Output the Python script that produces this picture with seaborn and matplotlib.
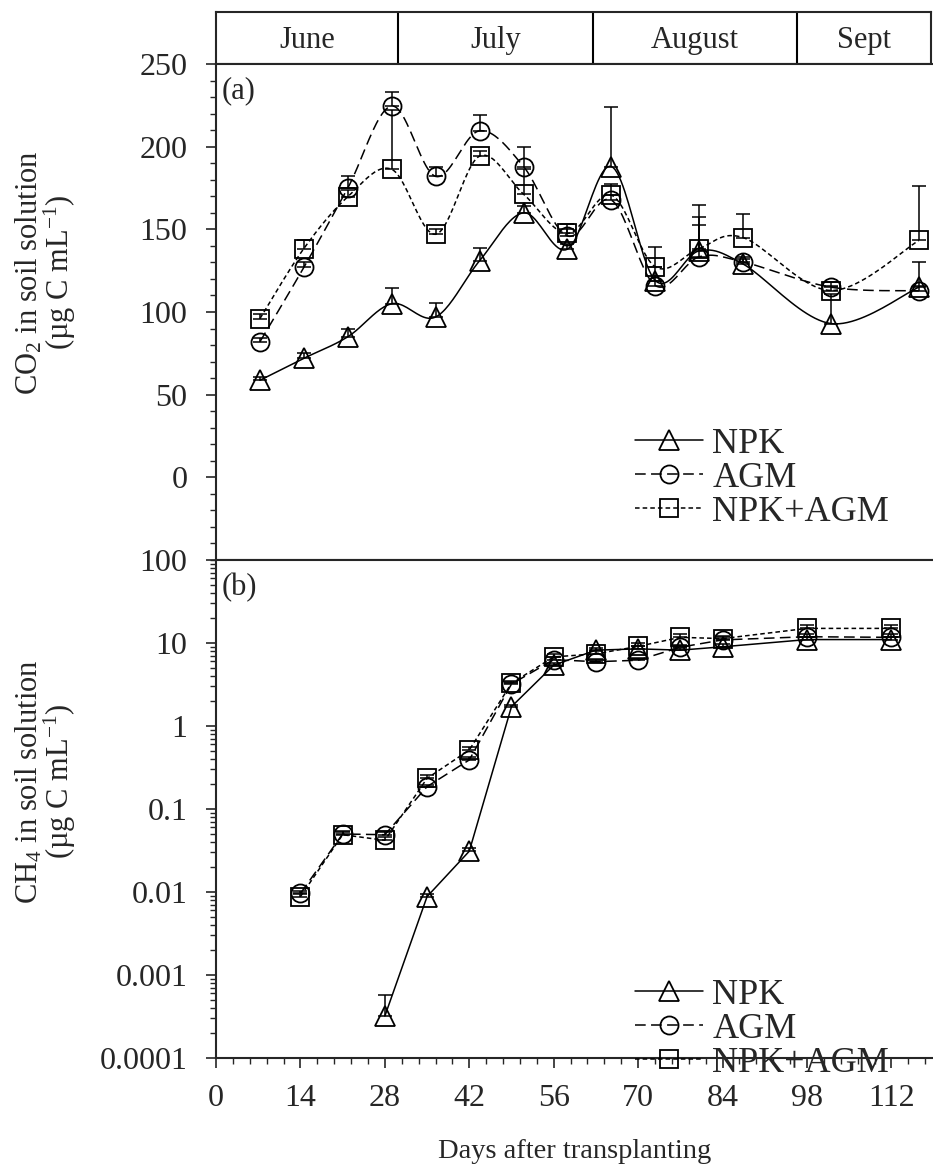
import numpy as np
import pandas as pd
import matplotlib
matplotlib.use("Agg")
import matplotlib.pyplot as plt
import seaborn as sns
from matplotlib.lines import Line2D
from matplotlib.ticker import MultipleLocator, FixedLocator, FuncFormatter, LogLocator, NullFormatter

# ---------------- data ----------------
series_names = ["NPK", "AGM", "NPK+AGM"]

days_a = [7, 14, 21, 28, 35, 42, 49, 56, 63, 70, 77, 84, 98, 112]
co2_npk = [58.7, 72, 85, 105, 97, 131, 160, 138, 188, 119, 137, 129, 93, 115]
co2_agm = [82, 127, 175, 224.6, 182, 209.6, 188, 146, 167.7, 116, 133.4, 130.3, 115, 112.8]
co2_mix = [96, 138.4, 169.7, 186.3, 147, 194.3, 171.3, 147.5, 170.7, 127.3, 138.4, 145, 113, 143.3]
co2_npk_err = [2, 3, 5, 9.5, 8.5, 8, 4, 3, 36, 8, 28, 3, 18, 15]
co2_agm_err = [2, 3, 7.5, 8.6, 6, 9.5, 12, 4, 3, 3, 19, 3, 3, 3]
co2_mix_err = [3, 5, 4, 36, 3, 3, 15, 6, 6.7, 12, 19, 14, 3, 33]

days_b = [14, 21, 28, 35, 42, 49, 56, 63, 70, 77, 84, 98, 112]
ch4_npk = [np.nan, np.nan, 0.00032, 0.0088, 0.031, 1.71, 5.4, 8.2, 8.5, 8.2, 9.0, 11.0, 11.0]
ch4_agm = [0.0096, 0.050, 0.049, 0.186, 0.39, 3.2, 6.3, 5.95, 6.2, 8.9, 10.9, 11.9, 11.7]
ch4_mix = [0.0088, 0.049, 0.042, 0.234, 0.514, 3.27, 6.8, 7.4, 9.1, 11.7, 11.3, 15.0, 15.0]
ch4_npk_err = [np.nan, np.nan, 0.00026, 0.0006, 0.003, 0.1, 0.4, 0.5, 0.6, 0.6, 0.8, 0.8, 0.8]
ch4_agm_err = [0.0006, 0.004, 0.004, 0.01, 0.03, 0.2, 0.4, 0.4, 0.4, 0.6, 0.8, 1.0, 1.0]
ch4_mix_err = [0.0006, 0.004, 0.004, 0.02, 0.04, 0.2, 0.5, 0.6, 0.8, 1.2, 1.0, 1.5, 1.5]

months = ["June", "July", "August", "Sept"]
month_bounds = [0, 29, 60, 92.5]

co2_yticks = [0, 50, 100, 150, 200, 250]
ch4_yticks = [0.0001, 0.001, 0.01, 0.1, 1, 10, 100]
x_ticks = [0, 14, 28, 42, 56, 70, 84, 98, 112]

# ---------------- style ----------------
sns.set_theme(style="ticks")
plt.rcParams["font.family"] = ["Liberation Serif", "DejaVu Serif"]
plt.rcParams["mathtext.fontset"] = "custom"
plt.rcParams["mathtext.rm"] = "Liberation Serif"
plt.rcParams["mathtext.it"] = "Liberation Serif:italic"
plt.rcParams["axes.linewidth"] = 1.5

markers = {"NPK": "^", "AGM": "o", "NPK+AGM": "s"}
msizes = {"NPK": 15, "AGM": 13, "NPK+AGM": 12.5}
lstyles = {"NPK": "-", "AGM": (0, (7, 3.5)), "NPK+AGM": (0, (3, 2))}
LW = 1.1
TICKFS = 23
LEGFS = 26

W, H = 933, 1173
def rect(l, t, r, b):
    return [l / W, 1 - b / H, (r - l) / W, (b - t) / H]

fig = plt.figure(figsize=(W / 100, H / 100), dpi=100)
ax_m = fig.add_axes(rect(216, 12, 931, 64))
ax_a = fig.add_axes(rect(216, 64, 933, 560))
ax_b = fig.add_axes(rect(216, 560, 933, 1058))

XMAX_A = 114.25
XMAX_B = 118.9


def catmull(x, y, n=24):
    P = np.column_stack([np.asarray(x, float), np.asarray(y, float)])
    p = np.vstack([P[0], P, P[-1]])
    out = []
    t = np.linspace(0, 1, n)[:, None]
    for i in range(len(P) - 1):
        p0, p1, p2, p3 = p[i], p[i + 1], p[i + 2], p[i + 3]
        seg = 0.5 * ((2 * p1) + (-p0 + p2) * t + (2 * p0 - 5 * p1 + 4 * p2 - p3) * t ** 2
                     + (-p0 + 3 * p1 - 3 * p2 + p3) * t ** 3)
        out.append(seg if i == 0 else seg[1:])
    out = np.vstack(out)
    return out[:, 0], out[:, 1]


def make_handles():
    hs = []
    for name in series_names:
        hs.append(Line2D([], [], color="black", lw=LW, linestyle=lstyles[name],
                         marker=markers[name], markersize=msizes[name],
                         markerfacecolor="none", markeredgecolor="black", markeredgewidth=1.3))
    return hs


def style_ticks(ax):
    ax.tick_params(axis="both", which="major", direction="out", length=7.5, width=1.2,
                   labelsize=TICKFS)
    ax.tick_params(axis="both", which="minor", direction="out", length=4, width=1.0)
    ax.tick_params(axis="y", which="major", pad=13)
    ax.spines["right"].set_visible(False)


# ---------------- panel (a) ----------------
co2 = {"NPK": (co2_npk, co2_npk_err), "AGM": (co2_agm, co2_agm_err), "NPK+AGM": (co2_mix, co2_mix_err)}
for name in series_names:
    vals, err = co2[name]
    sx, sy = catmull(days_a, vals)
    sns.lineplot(x=sx, y=sy, ax=ax_a, color="black", lw=LW, linestyle=lstyles[name],
                 sort=False, estimator=None, errorbar=None)
    ax_a.errorbar(days_a, vals, yerr=[np.zeros(len(err)), err], fmt="none",
                  ecolor="black", elinewidth=1.1, capsize=5, capthick=1.1)
    sns.lineplot(x=days_a, y=vals, ax=ax_a, color="black", linestyle="none",
                 marker=markers[name], markersize=msizes[name], markerfacecolor="none",
                 markeredgecolor="black", markeredgewidth=1.3, estimator=None, errorbar=None)

ax_a.set_xlim(0, XMAX_A)
ax_a.set_ylim(-50, 250)
ax_a.yaxis.set_major_locator(FixedLocator(co2_yticks))
ax_a.yaxis.set_minor_locator(MultipleLocator(10))
ax_a.xaxis.set_major_locator(MultipleLocator(14))
ax_a.xaxis.set_minor_locator(MultipleLocator(2.8))
ax_a.set_xticklabels([])
style_ticks(ax_a)
ax_a.set_xlabel("")
ax_a.set_ylabel("CO$_2$ in soil solution\n(µg C mL$^{-1}$)", fontsize=22, linespacing=0.9)
ax_a.yaxis.set_label_coords(-0.193, 0.58)
ax_a.text(0.008, 0.975, "(a)", transform=ax_a.transAxes, fontsize=22, va="top", ha="left")
ax_a.legend(make_handles(), series_names, loc="center left", bbox_to_anchor=(0.584, 0.165),
            frameon=False, fontsize=LEGFS, handlelength=1.9, handletextpad=0.25,
            labelspacing=0.02, borderaxespad=0, borderpad=0)

# ---------------- panel (b) ----------------
ch4 = {"NPK": (ch4_npk, ch4_npk_err), "AGM": (ch4_agm, ch4_agm_err), "NPK+AGM": (ch4_mix, ch4_mix_err)}
for name in series_names:
    vals, err = ch4[name]
    df = pd.DataFrame({"day": days_b, "v": vals, "e": err}).dropna()
    sns.lineplot(data=df, x="day", y="v", ax=ax_b, color="black", lw=LW, linestyle=lstyles[name],
                 marker=markers[name], markersize=msizes[name], markerfacecolor="none",
                 markeredgecolor="black", markeredgewidth=1.3, estimator=None, errorbar=None)
    ax_b.errorbar(df["day"], df["v"], yerr=[np.zeros(len(df)), df["e"]], fmt="none",
                  ecolor="black", elinewidth=1.1, capsize=5, capthick=1.1)

ax_b.set_yscale("log")
ax_b.set_xlim(0, XMAX_B)
ax_b.set_ylim(1e-4, 100)
ax_b.yaxis.set_major_locator(FixedLocator(ch4_yticks))
ax_b.yaxis.set_major_formatter(FuncFormatter(lambda v, p: "{:g}".format(v)))
ax_b.yaxis.set_minor_locator(LogLocator(base=10, subs=np.arange(2, 10)))
ax_b.yaxis.set_minor_formatter(NullFormatter())
ax_b.xaxis.set_major_locator(FixedLocator(x_ticks))
ax_b.xaxis.set_minor_locator(MultipleLocator(2.8))
style_ticks(ax_b)
ax_b.tick_params(axis="x", which="major", pad=11)
ax_b.set_xlabel("Days after transplanting", fontsize=20.5, labelpad=19)
ax_b.set_ylabel("CH$_4$ in soil solution\n(µg C mL$^{-1}$)", fontsize=22, linespacing=0.9)
ax_b.yaxis.set_label_coords(-0.193, 0.555)
ax_b.text(0.008, 0.975, "(b)", transform=ax_b.transAxes, fontsize=22, va="top", ha="left")
ax_b.legend(make_handles(), series_names, loc="center left", bbox_to_anchor=(0.584, 0.058),
            frameon=False, fontsize=LEGFS, handlelength=1.9, handletextpad=0.25,
            labelspacing=0.02, borderaxespad=0, borderpad=0)

# ---------------- month bar ----------------
ax_m.set_xlim(0, XMAX_A * (931 - 216) / (933 - 216))
ax_m.set_ylim(0, 1)
ax_m.set_xticks([])
ax_m.set_yticks([])
ends = month_bounds[1:] + [ax_m.get_xlim()[1]]
for name, lo, hi in zip(months, month_bounds, ends):
    if lo > 0:
        ax_m.axvline(lo, color="black", lw=1.5)
    ax_m.text((lo + hi) / 2, 0.45, name, ha="center", va="center", fontsize=22)
for sp in ax_m.spines.values():
    sp.set_linewidth(1.5)

fig.savefig("out.png", dpi=100)
